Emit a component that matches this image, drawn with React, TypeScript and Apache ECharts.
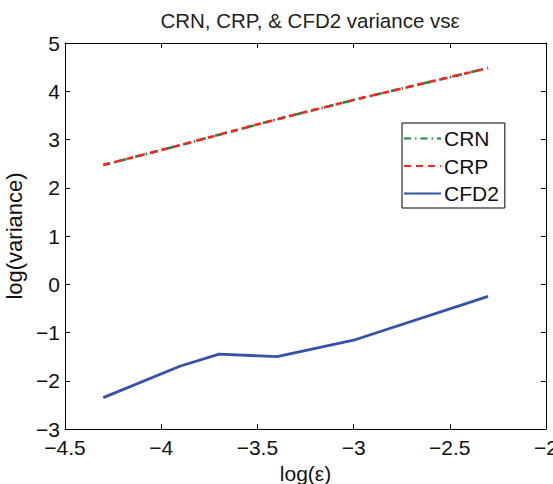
import React, { useEffect, useRef } from "react";
import * as echarts from "echarts";

const logEps = [-4.301, -3.903, -3.699, -3.398, -3.0, -2.301];
const crnValues = [2.47, 2.88, 3.1, 3.42, 3.82, 4.48];
const crpValues = [2.47, 2.88, 3.1, 3.42, 3.82, 4.48];
const cfd2Values = [-2.35, -1.7, -1.45, -1.5, -1.16, -0.25];
const seriesNames = ["CRN", "CRP", "CFD2"];

const FONT = "'Liberation Sans', Arial, Helvetica, sans-serif";
const fmt = (v: number) => String(v).replace("-", "\u2212");

export default function App() {
  const ref = useRef<HTMLDivElement>(null);
  useEffect(() => {
    document.body.style.margin = "0";
    if (!ref.current) return;
    const chart = echarts.init(ref.current, undefined, { renderer: "svg" });
    const pair = (ys: number[]) => logEps.map((x, i) => [x, ys[i]]);
    const axisCommon = {
      axisLine: { show: true, onZero: false, lineStyle: { color: "#000", width: 1 } },
      axisTick: { show: true, inside: true, length: 5, lineStyle: { color: "#000", width: 1 } },
      splitLine: { show: false },
    };
    chart.setOption({
      animation: false,
      backgroundColor: "#fff",
      title: {
        text: "CRN, CRP, & CFD2 variance vs\u03b5",
        left: 305,
        textAlign: "center",
        top: 5,
        textStyle: { fontFamily: FONT, fontSize: 20.5, fontWeight: "normal", color: "#222" },
      },
      legend: {
        orient: "vertical",
        left: 402,
        top: 123,
        data: seriesNames,
        backgroundColor: "#fff",
        borderColor: "#000",
        borderWidth: 1,
        padding: [5, 6, 4, 1],
        itemWidth: 37,
        itemHeight: 14,
        itemGap: 6.5,
        itemStyle: { opacity: 0 },
        textStyle: { fontFamily: FONT, fontSize: 21, color: "#111", padding: [0, 0, 0, -2] },
      },
      grid: {
        left: 65,
        right: 7,
        top: 43,
        bottom: 55,
        containLabel: false,
        outerBoundsMode: "none",
      },
      xAxis: [
        {
          type: "value",
          min: -4.5,
          max: -2,
          interval: 0.5,
          position: "bottom",
          name: "log(\u03b5)",
          nameLocation: "middle",
          nameGap: 29,
          nameTextStyle: { fontFamily: FONT, fontSize: 21, color: "#111" },
          axisLabel: { fontFamily: FONT, fontSize: 21, color: "#111", margin: 8, formatter: fmt },
          ...axisCommon,
        },
        {
          type: "value",
          min: -4.5,
          max: -2,
          interval: 0.5,
          position: "top",
          axisLabel: { show: false },
          ...axisCommon,
        },
      ],
      yAxis: [
        {
          type: "value",
          min: -3,
          max: 5,
          interval: 1,
          position: "left",
          name: "log(variance)",
          nameLocation: "middle",
          nameGap: 33,
          nameTextStyle: { fontFamily: FONT, fontSize: 22, color: "#111" },
          axisLabel: { fontFamily: FONT, fontSize: 21, color: "#111", margin: 5, formatter: fmt },
          ...axisCommon,
        },
        {
          type: "value",
          min: -3,
          max: 5,
          interval: 1,
          position: "right",
          axisLabel: { show: false },
          ...axisCommon,
        },
      ],
      series: [
        {
          name: "CRN",
          type: "line",
          data: pair(crnValues),
          symbol: "none",
          color: "#138a3e",
          lineStyle: { color: "#138a3e", width: 2.6, type: [7, 4, 1.5, 4] },
        },
        {
          name: "CRP",
          type: "line",
          data: pair(crpValues),
          symbol: "none",
          color: "#ff2424",
          lineStyle: { color: "#ff2424", width: 2.6, type: [7, 5] },
        },
        {
          name: "CFD2",
          type: "line",
          data: pair(cfd2Values),
          symbol: "none",
          color: "#3552a8",
          lineStyle: { color: "#3552a8", width: 2.8, type: "solid" },
        },
      ],
    });
    return () => chart.dispose();
  }, []);
  return <div ref={ref} style={{ width: 553, height: 484 }} />;
}
